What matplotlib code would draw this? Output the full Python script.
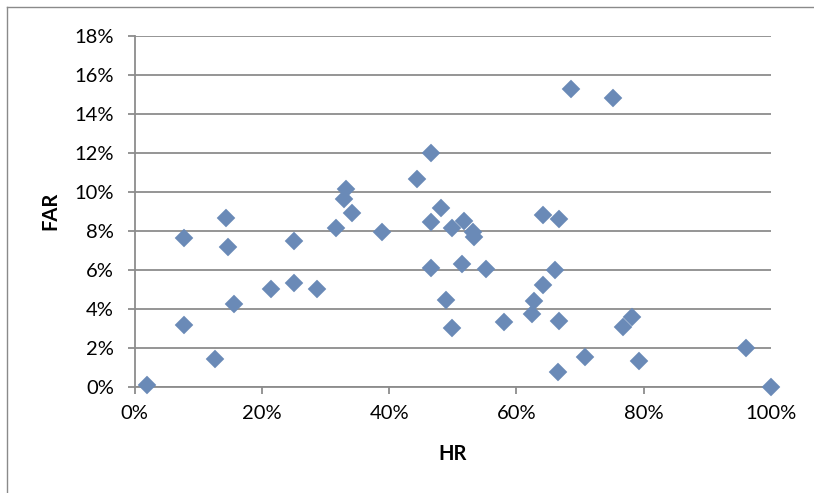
import matplotlib
matplotlib.use('Agg')
import matplotlib.pyplot as plt
from matplotlib.lines import Line2D
from matplotlib.ticker import PercentFormatter, MultipleLocator

# hit rate (x, %) and false alarm rate (y, %)
hr = [2.0, 7.7, 7.7, 12.6, 14.3, 14.6, 15.6, 21.4, 25.0, 25.0,
      28.6, 31.6, 32.9, 33.2, 34.1, 38.8, 44.4, 46.5, 46.5, 46.5,
      48.2, 48.9, 49.9, 49.9, 51.4, 51.7, 53.2, 53.3, 55.2, 58.1,
      62.5, 62.8, 64.2, 64.2, 66.1, 66.6, 66.7, 66.7, 68.5, 70.8,
      75.1, 76.8, 78.1, 79.2, 96.1, 100.0]
far = [0.09, 7.64, 3.16, 1.44, 8.67, 7.18, 4.26, 5.03, 7.47, 5.33,
       5.03, 8.12, 9.63, 10.13, 8.89, 7.95, 10.65, 12.0, 8.46, 6.07,
       9.15, 4.43, 3.03, 8.12, 6.31, 8.51, 7.95, 7.7, 6.04, 3.33,
       3.74, 4.41, 8.82, 5.2, 5.98, 0.75, 8.6, 3.38, 15.27, 1.54,
       14.82, 3.08, 3.59, 1.32, 2.0, 0.0]

X_LABEL = 'HR'
Y_LABEL = 'FAR'

GRID = '#8c8c8c'
MARKER = '#6a8ab7'
FONT = ['Lato', 'DejaVu Sans']

plt.rcParams['font.family'] = FONT

fig = plt.figure(figsize=(8.14, 4.93), dpi=100)
ax = fig.add_axes([0.1655, 0.2156, 0.7817, 0.7120])

# chart border (only left and top edges are inside the image)
W, H = 814, 493
fig.add_artist(Line2D([6.5 / W, 6.5 / W], [0, 1 - 7 / H], color='#8a8a8a', lw=1.0,
                      transform=fig.transFigure))
fig.add_artist(Line2D([6.5 / W, 1], [1 - 7 / H, 1 - 7 / H], color='#8a8a8a', lw=1.0,
                      transform=fig.transFigure))

x = [v / 100 for v in hr]
y = [v / 100 for v in far]
ax.plot(x, y, linestyle='none', marker='D', ms=8.8, mfc=MARKER, mec=MARKER,
        mew=0.3, clip_on=False, zorder=5)

ax.set_xlim(0, 1)
ax.set_ylim(0, 0.18)
ax.xaxis.set_major_locator(MultipleLocator(0.2))
ax.yaxis.set_major_locator(MultipleLocator(0.02))
ax.xaxis.set_major_formatter(PercentFormatter(1.0, decimals=0))
ax.yaxis.set_major_formatter(PercentFormatter(1.0, decimals=0))

ax.grid(axis='y', color=GRID, lw=1.3)
ax.set_axisbelow(True)
for s in ['top', 'right']:
    ax.spines[s].set_visible(False)
for s in ['left', 'bottom']:
    ax.spines[s].set_color(GRID)
    ax.spines[s].set_linewidth(1.3)

ax.tick_params(axis='y', direction='out', length=5, width=1.3, color=GRID,
               pad=10, labelsize=14.5)
ax.tick_params(axis='x', direction='out', length=5, width=1.3, color=GRID,
               pad=8, labelsize=14.5)

ax.set_xlabel(X_LABEL, fontsize=14.5, fontweight='bold', labelpad=16)
ax.set_ylabel(Y_LABEL, fontsize=14.5, fontweight='bold', labelpad=10)

fig.savefig('out.png', dpi=100)
